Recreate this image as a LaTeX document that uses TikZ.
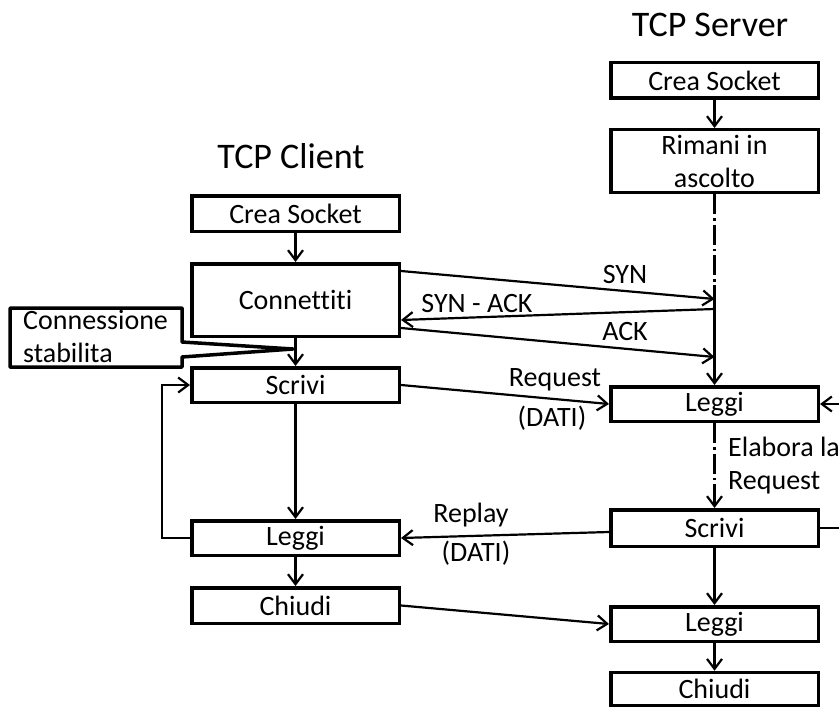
\documentclass[tikz,border=0pt]{standalone}
\usepackage{fontspec}
\setmainfont{Carlito}[Ligatures=NoCommon]
\usetikzlibrary{arrows.meta,calc}
\begin{document}
\begin{tikzpicture}[x=1pt,y=-1pt,
  box/.style={draw,line width=3.5pt,minimum width=207.5pt,inner sep=0pt,align=center,font=\fontsize{28}{33}\selectfont},
  conn/.style={line width=2.2pt,-{Straight Barb[length=10pt,width=15pt]}},
  plain/.style={line width=2.2pt},
  dd/.style={dash pattern=on 20pt off 4pt on 2.5pt off 4pt},
  lbl/.style={font=\fontsize{28}{33}\selectfont,inner sep=0pt},
  ttl/.style={font=\fontsize{36}{40}\selectfont,inner sep=0pt}]
\useasboundingbox (0,0) rectangle (839,709);
% titles
\node[ttl] (tclient) at (291,156.5) {TCP Client};
\node[ttl] (tserver) at (710,25) {TCP Server};
% client boxes
\node[box,minimum height=35.5pt] (cCrea) at (295.5,213.5) {Crea Socket};
\node[box,minimum height=72.5pt] (cConn) at (295.5,300) {Connettiti};
\node[box,minimum height=34.5pt] (cScr) at (295.5,385) {Scrivi};
\node[box,minimum height=34.5pt] (cLeg) at (295.5,538) {Leggi};
\node[box,minimum height=35.5pt] (cChi) at (295.5,605.5) {Chiudi};
% server boxes
\node[box,minimum height=35.5pt] (sCrea) at (714.5,80.5) {Crea Socket};
\node[box,minimum height=62.5pt] (sRim) at (714.5,161) {Rimani in\\ascolto};
\node[box,minimum height=34.5pt] (sLeg) at (714.5,404) {Leggi};
\node[box,minimum height=36.5pt] (sScr) at (714.5,528) {Scrivi};
\node[box,minimum height=34.5pt] (sLeg2) at (714.5,624) {Leggi};
\node[box,minimum height=33pt] (sChi) at (714.5,689) {Chiudi};
% client flow
\draw[conn] (cCrea.south) -- (cConn.north);
\draw[conn] (cConn.south) -- (cScr.north);
\draw[conn] (cScr.south) -- (cLeg.north);
\draw[conn] (cLeg.south) -- (cChi.north);
\draw[conn] (cLeg.west) -- ++(-28,0) |- (cScr.west);
% server flow
\draw[conn] (sCrea.south) -- (sRim.north);
\coordinate (sv0) at (714.5,285);
\coordinate (synE) at (714.5,299);
\coordinate (sackS) at (714.5,309);
\coordinate (ackE) at (714.5,357);
\draw[plain,dd] (sRim.south) -- (sv0);
\draw[conn] (sv0) -- (sLeg.north);
\draw[conn,dd] (sLeg.south) -- (sScr.north);
\draw[conn] (sScr.south) -- (sLeg2.north);
\draw[conn] (sLeg2.south) -- (sChi.north);
\coordinate (rin) at (839,404);
\coordinate (rout) at (839,528);
\draw[conn] (rin) -- (sLeg.east);
\draw[plain] (sScr.east) -- (rout);
% messages
\draw[conn] ([yshift=29pt]cConn.east) -- (synE);
\draw[conn] (sackS) -- ([yshift=-20pt]cConn.east);
\draw[conn] ([yshift=-28pt]cConn.east) -- (ackE);
\draw[conn] (cScr.east) -- (sLeg.west);
\draw[conn] ([yshift=-4pt]sScr.west) -- (cLeg.east);
\draw[conn] (cChi.east) -- (sLeg2.west);
% labels
\node[lbl] (lsyn) at (625,275) {SYN};
\node[lbl] (lsack) at (477,303.5) {SYN - ACK};
\node[lbl] (lack) at (625,331.5) {ACK};
\node[lbl] (lreq) at (555,380) {Request};
\node[lbl] (ldati1) at (552,418.5) {(DATI)};
\node[lbl] (lrep) at (471,515) {Replay};
\node[lbl] (ldati2) at (476,553) {(DATI)};
\node[lbl,align=left,anchor=west] (lelab) at (728,466) {Elabora la\\Request};
% callout
\draw[line width=3.5pt,line join=round] (10,308) -- (182,308) -- (182,342) -- (293,349) -- (182,357) -- (182,367) -- (10,367) -- cycle;
\node[lbl,align=left,anchor=west] (callout) at (23,336) {Connessione\\stabilita};
\end{tikzpicture}
\end{document}
